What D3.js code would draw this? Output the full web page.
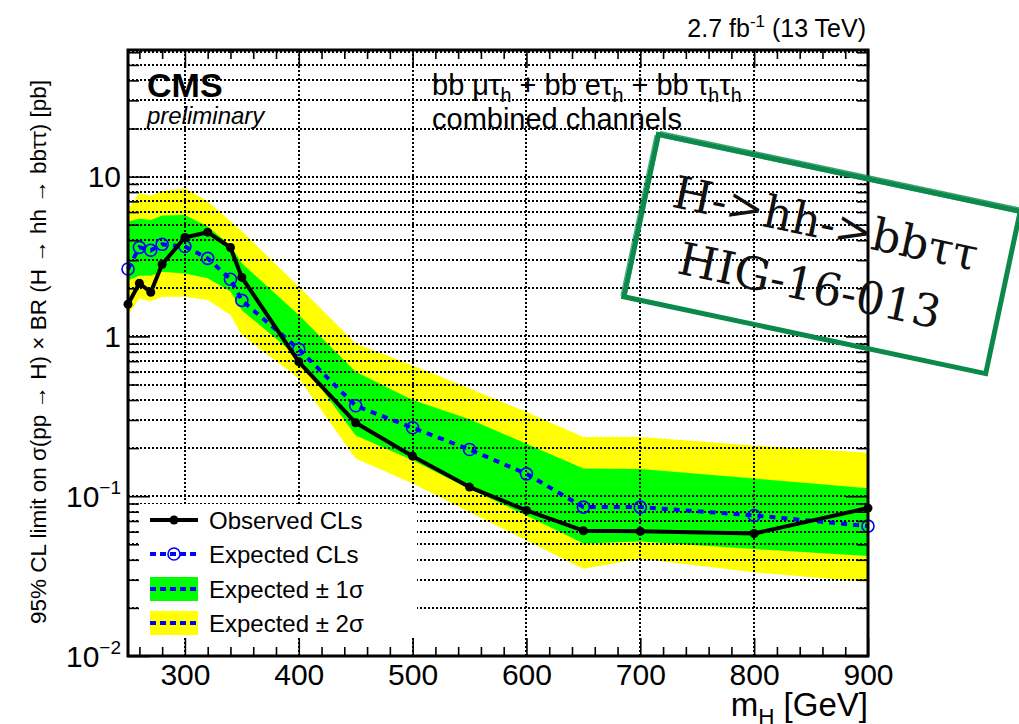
<!DOCTYPE html>
<html>
<head>
<meta charset="utf-8">
<script src="https://cdn.jsdelivr.net/npm/d3@7"></script>
<style>
body { margin: 0; background: #fff; }
svg { font-family: "Liberation Sans", Arial, Helvetica, sans-serif; }
</style>
</head>
<body>
<div id="chart"></div>
<script>
// values (pb)
const massPoints = [250, 260, 270, 280, 300, 320, 340, 350, 400, 450, 500, 550, 600, 650, 700, 800, 900];
const observed = [1.59, 2.15, 1.89, 2.83, 4.16, 4.49, 3.60, 2.34, 0.694, 0.288, 0.178, 0.114, 0.0815, 0.0608, 0.0603, 0.0584, 0.0843];
const expected = [2.64, 3.61, 3.46, 3.77, 3.65, 3.08, 2.28, 1.68, 0.832, 0.368, 0.268, 0.196, 0.138, 0.0855, 0.0855, 0.0758, 0.0650];
const up1 = [5.24, 5.44, 5.35, 5.71, 5.76, 4.87, 3.70, 2.87, 1.36, 0.60, 0.40, 0.303, 0.213, 0.149, 0.148, 0.129, 0.112];
const down1 = [2.25, 2.40, 2.40, 2.54, 2.48, 2.31, 1.91, 1.46, 0.735, 0.240, 0.168, 0.111, 0.0757, 0.0505, 0.052, 0.0467, 0.0422];
const up2 = [6.26, 7.88, 7.58, 8.11, 8.47, 7.02, 5.26, 4.55, 2.05, 0.904, 0.661, 0.472, 0.337, 0.235, 0.235, 0.208, 0.187];
const down2 = [1.36, 1.73, 1.66, 1.77, 1.77, 1.69, 1.36, 1.02, 0.545, 0.172, 0.120, 0.0796, 0.0528, 0.0351, 0.0406, 0.0334, 0.0290];

const xMajorTicks = [300, 400, 500, 600, 700, 800, 900];
const yMajorTicks = [0.01, 0.1, 1, 10];
const legendLabels = ["Observed CLs", "Expected CLs", "Expected \u00b1 1\u03c3", "Expected \u00b1 2\u03c3"];

const rows = massPoints.map((m, i) => ({
    m: m, obs: observed[i], exp: expected[i],
    u1: up1[i], d1: down1[i], u2: up2[i], d2: down2[i]
}));

const width = 1019;
const height = 724;
const margin = { top: 50, right: 151, bottom: 68, left: 128 };
const innerWidth = width - margin.left - margin.right;
const innerHeight = height - margin.top - margin.bottom;

const svg = d3.select("#chart")
    .append("svg")
    .attr("width", width)
    .attr("height", height);

const g = svg.append("g")
    .attr("transform", `translate(${margin.left}, ${margin.top})`);

const xScale = d3.scaleLinear()
    .domain([250, 900])
    .range([0, innerWidth]);

const yScale = d3.scaleLog()
    .domain([0.01, 62])
    .range([innerHeight, 0]);

// bands
const band = (lo, hi) => d3.area()
    .x(d => xScale(d.m))
    .y0(d => yScale(d[lo]))
    .y1(d => yScale(d[hi]));

g.append("path").datum(rows).attr("d", band("d2", "u2")).attr("fill", "#ffff00");
g.append("path").datum(rows).attr("d", band("d1", "u1")).attr("fill", "#00ff00");

// dotted grid on top of the bands
const grid = g.append("g")
    .attr("stroke", "#000")
    .attr("stroke-width", 1.5)
    .attr("stroke-dasharray", "1.5,2.5")
    .attr("shape-rendering", "crispEdges");

grid.selectAll(".gx")
    .data(xMajorTicks.filter(v => v < 900))
    .enter()
    .append("line")
    .attr("x1", d => Math.round(xScale(d)))
    .attr("x2", d => Math.round(xScale(d)))
    .attr("y1", 0)
    .attr("y2", innerHeight);

grid.selectAll(".gy")
    .data(yScale.ticks().filter(v => v > 0.0101))
    .enter()
    .append("line")
    .attr("x1", 0)
    .attr("x2", innerWidth)
    .attr("y1", d => Math.round(yScale(d)))
    .attr("y2", d => Math.round(yScale(d)));

// expected
const expLine = d3.line().x(d => xScale(d.m)).y(d => yScale(d.exp));
g.append("path")
    .datum(rows)
    .attr("d", expLine)
    .attr("fill", "none")
    .attr("stroke", "#0000ff")
    .attr("stroke-width", 4)
    .attr("stroke-dasharray", "6,6");

g.selectAll(".expPt")
    .data(rows)
    .enter()
    .append("circle")
    .attr("cx", d => xScale(d.m))
    .attr("cy", d => yScale(d.exp))
    .attr("r", 6)
    .attr("fill", "none")
    .attr("stroke", "#0000ff")
    .attr("stroke-width", 1.6);

// observed
const obsLine = d3.line().x(d => xScale(d.m)).y(d => yScale(d.obs));
g.append("path")
    .datum(rows)
    .attr("d", obsLine)
    .attr("fill", "none")
    .attr("stroke", "#000")
    .attr("stroke-width", 4)
    .attr("stroke-linejoin", "round");

g.selectAll(".obsPt")
    .data(rows)
    .enter()
    .append("circle")
    .attr("cx", d => xScale(d.m))
    .attr("cy", d => yScale(d.obs))
    .attr("r", 4.5)
    .attr("fill", "#000");

// axes, ROOT style ticks pointing inwards
const xMinor = d3.range(260, 900, 20).filter(v => v % 100 !== 0);
const yMinor = yScale.ticks().filter(v => !yMajorTicks.some(t => Math.abs(t - v) < 1e-9));

function cleanAxis(sel) {
    sel.select(".domain").remove();
    sel.selectAll(".tick line").attr("stroke", "#000").attr("stroke-width", 1.6);
}

function noLabels(sel) {
    sel.selectAll(".tick text").remove();
}

g.append("g")
    .attr("transform", `translate(0, ${innerHeight})`)
    .call(d3.axisBottom(xScale).tickValues(xMajorTicks).tickSize(-18).tickPadding(8))
    .call(cleanAxis)
    .selectAll("text")
    .style("font-size", "30px")
    .attr("fill", "#000");

g.append("g")
    .attr("transform", `translate(0, ${innerHeight})`)
    .call(d3.axisBottom(xScale).tickValues(xMinor).tickSize(-9))
    .call(cleanAxis).call(noLabels);

g.append("g")
    .call(d3.axisTop(xScale).tickValues(xMajorTicks).tickSize(-18))
    .call(cleanAxis).call(noLabels);

g.append("g")
    .call(d3.axisTop(xScale).tickValues(xMinor).tickSize(-9))
    .call(cleanAxis).call(noLabels);

g.append("g")
    .call(d3.axisLeft(yScale).tickValues(yMajorTicks).tickSize(-22))
    .call(cleanAxis).call(noLabels);

g.append("g")
    .call(d3.axisLeft(yScale).tickValues(yMinor).tickSize(-11))
    .call(cleanAxis).call(noLabels);

g.append("g")
    .attr("transform", `translate(${innerWidth}, 0)`)
    .call(d3.axisRight(yScale).tickValues(yMajorTicks).tickSize(-22))
    .call(cleanAxis).call(noLabels);

g.append("g")
    .attr("transform", `translate(${innerWidth}, 0)`)
    .call(d3.axisRight(yScale).tickValues(yMinor).tickSize(-11))
    .call(cleanAxis).call(noLabels);

// y tick labels with exponents
const yLabels = g.selectAll(".ylab")
    .data(yMajorTicks)
    .enter()
    .append("text")
    .attr("x", -7)
    .attr("y", d => yScale(d))
    .attr("dy", "0.36em")
    .attr("text-anchor", "end")
    .style("font-size", "30px");

yLabels.each(function (d) {
    const t = d3.select(this);
    if (d >= 10) t.text("10");
    else if (d === 1) t.text("1");
    else {
        t.append("tspan").text("10");
        t.append("tspan")
            .attr("dy", -13)
            .style("font-size", "19px")
            .text("\u2212" + Math.round(-Math.log10(d)));
    }
});

// frame
g.append("rect")
    .attr("width", innerWidth)
    .attr("height", innerHeight)
    .attr("fill", "none")
    .attr("stroke", "#000")
    .attr("stroke-width", 3);

// legend
const legend = g.append("g").attr("transform", "translate(12, 454)");
legend.append("rect")
    .attr("width", 277)
    .attr("height", 134)
    .attr("fill", "#fff");

const rowY = [16, 50, 85, 119];
legend.append("rect").attr("x", 10).attr("y", rowY[3] - 12).attr("width", 48).attr("height", 24).attr("fill", "#ffff00");
legend.append("rect").attr("x", 10).attr("y", rowY[2] - 12).attr("width", 48).attr("height", 24).attr("fill", "#00ff00");
[1, 2, 3].forEach(i => {
    legend.append("line")
        .attr("x1", 10).attr("x2", 58)
        .attr("y1", rowY[i]).attr("y2", rowY[i])
        .attr("stroke", "#0000ff")
        .attr("stroke-width", 4)
        .attr("stroke-dasharray", "6,4");
});
legend.append("circle").attr("cx", 34).attr("cy", rowY[1]).attr("r", 6)
    .attr("fill", "none").attr("stroke", "#0000ff").attr("stroke-width", 1.6);
legend.append("line")
    .attr("x1", 10).attr("x2", 58)
    .attr("y1", rowY[0]).attr("y2", rowY[0])
    .attr("stroke", "#000").attr("stroke-width", 4);
legend.append("circle").attr("cx", 34).attr("cy", rowY[0]).attr("r", 4.5).attr("fill", "#000");

legend.selectAll(".ltext")
    .data(legendLabels)
    .enter()
    .append("text")
    .attr("x", 69)
    .attr("y", (d, i) => rowY[i])
    .attr("dy", "0.36em")
    .style("font-size", "24px")
    .text(d => d);

// header texts
svg.append("text")
    .attr("x", 147)
    .attr("y", 97)
    .style("font-size", "34px")
    .style("font-weight", "bold")
    .text("CMS");

svg.append("text")
    .attr("x", 147)
    .attr("y", 124)
    .style("font-size", "24px")
    .style("font-style", "italic")
    .text("preliminary");

function addRich(x, y, size, parts, anchor) {
    const t = svg.append("text")
        .attr("x", x)
        .attr("y", y)
        .attr("text-anchor", anchor || "start")
        .style("font-size", size + "px");
    let shift = 0;
    parts.forEach(p => {
        const want = p.sub ? size * 0.25 : (p.sup ? -size * 0.42 : 0);
        t.append("tspan")
            .attr("dy", want - shift)
            .style("font-size", (p.sub || p.sup ? size * 0.68 : size) + "px")
            .text(p.t);
        shift = want;
    });
    return t;
}

addRich(432, 95, 29, [
    { t: "bb \u03bc\u03c4" }, { t: "h", sub: true },
    { t: " + bb e\u03c4" }, { t: "h", sub: true },
    { t: " + bb \u03c4" }, { t: "h", sub: true },
    { t: "\u03c4" }, { t: "h", sub: true }
]);

svg.append("text")
    .attr("x", 432)
    .attr("y", 129)
    .style("font-size", "29px")
    .text("combined channels");

addRich(866, 37, 25, [
    { t: "2.7 fb" }, { t: "-1", sup: true }, { t: " (13 TeV)" }
], "end");

addRich(868, 716, 33, [
    { t: "m" }, { t: "H", sub: true }, { t: " [GeV]" }
], "end");

svg.append("text")
    .attr("transform", "translate(46, 352) rotate(-90)")
    .attr("text-anchor", "middle")
    .style("font-size", "22.5px")
    .text("95% CL limit on \u03c3(pp \u2192 H) \u00d7 BR (H \u2192 hh \u2192 bb\u03c4\u03c4) [pb]");

// analysis stamp
const stampColor = "#0b8a4b";
const stamp = svg.append("g")
    .attr("transform", "translate(822, 254) rotate(12)");

stamp.append("rect")
    .attr("x", -185).attr("y", -83).attr("width", 370).attr("height", 166)
    .attr("fill", "none").attr("stroke", stampColor).attr("stroke-width", 5);
stamp.append("rect")
    .attr("x", -183).attr("y", -86).attr("width", 368).attr("height", 170)
    .attr("fill", "none").attr("stroke", stampColor).attr("stroke-width", 1.5).attr("opacity", 0.8);
stamp.append("rect")
    .attr("x", -188).attr("y", -81).attr("width", 374).attr("height", 163)
    .attr("fill", "none").attr("stroke", stampColor).attr("stroke-width", 1.2).attr("opacity", 0.7);

stamp.append("text")
    .attr("x", -158).attr("y", -15)
    .style("font-family", "'DejaVu Serif', 'Liberation Serif', serif")
    .style("font-size", "45px")
    .attr("fill", "#111")
    .text("H->hh->bb\u03c4\u03c4");

stamp.append("text")
    .attr("x", -139).attr("y", 49)
    .style("font-family", "'DejaVu Serif', 'Liberation Serif', serif")
    .style("font-size", "45px")
    .attr("fill", "#111")
    .text("HIG-16-013");
</script>
</body>
</html>
